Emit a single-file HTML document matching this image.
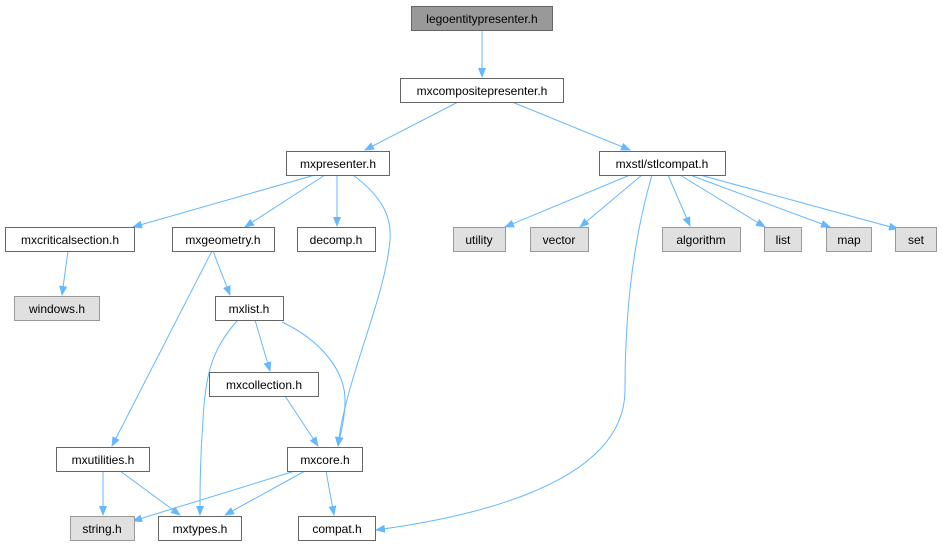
<!DOCTYPE html>
<html><head><meta charset="utf-8"><style>
html,body{margin:0;padding:0;background:#fff;}
svg{display:block;}
text{font-family:"Liberation Sans",Helvetica,Arial,sans-serif;font-size:12px;fill:#000;}
</style></head><body>
<svg width="942" height="549" viewBox="0 0 942 549" xmlns="http://www.w3.org/2000/svg">
<defs><marker id="a" markerWidth="10" markerHeight="8" refX="9" refY="4" orient="auto" markerUnits="userSpaceOnUse"><path d="M0,0 L10,4 L0,8 z" fill="#63b8ff"/></marker></defs>
<g fill="none" stroke="#63b8ff" stroke-width="1" marker-end="url(#a)">
<path d="M482,30 L482,77"/>
<path d="M458,102 L365,150"/>
<path d="M512,102 L630,150"/>
<path d="M315,175 L133,227"/>
<path d="M325,175 L245,227"/>
<path d="M337,175 L337,226"/>
<path d="M353,175 C380,195 392,215 390,240 C385,300 345,380 338,446"/>
<path d="M630,175 L505,227"/>
<path d="M642,175 L580,227"/>
<path d="M668,175 L690,226"/>
<path d="M680,175 L765,227"/>
<path d="M690,175 L830,227"/>
<path d="M700,175 L898,229"/>
<path d="M652,175 C630,250 625,330 625,390 C625,490 450,520 376,530"/>
<path d="M68,251 L62,295"/>
<path d="M213,251 L230,295"/>
<path d="M212,251 L112,446"/>
<path d="M255,320 L270,371"/>
<path d="M238,320 C210,350 205,380 203,420 C200,460 200,490 200,515"/>
<path d="M282,322 C320,340 345,370 345,400 C345,420 340,435 338,446"/>
<path d="M285,396 L318,446"/>
<path d="M103,471 L103,515"/>
<path d="M120,471 L180,515"/>
<path d="M295,471 L133,521"/>
<path d="M305,471 L225,515"/>
<path d="M326,471 L334,515"/>
</g>
<g stroke-width="1">
<rect x="411.5" y="6.5" width="141" height="24" fill="#999" stroke="#666"/>
<rect x="400.5" y="78.5" width="163" height="24" fill="#fff" stroke="#666"/>
<rect x="286.5" y="151.5" width="103" height="24" fill="#fff" stroke="#666"/>
<rect x="599.5" y="151.5" width="126" height="24" fill="#fff" stroke="#666"/>
<rect x="5.5" y="227.5" width="129" height="24" fill="#fff" stroke="#666"/>
<rect x="172.5" y="227.5" width="102" height="24" fill="#fff" stroke="#666"/>
<rect x="297.5" y="227.5" width="78" height="24" fill="#fff" stroke="#666"/>
<rect x="453.5" y="227.5" width="52" height="24" fill="#e0e0e0" stroke="#999"/>
<rect x="530.5" y="227.5" width="58" height="24" fill="#e0e0e0" stroke="#999"/>
<rect x="662.5" y="227.5" width="78" height="24" fill="#e0e0e0" stroke="#999"/>
<rect x="764.5" y="227.5" width="37" height="24" fill="#e0e0e0" stroke="#999"/>
<rect x="826.5" y="227.5" width="45" height="24" fill="#e0e0e0" stroke="#999"/>
<rect x="895.5" y="227.5" width="41" height="24" fill="#e0e0e0" stroke="#999"/>
<rect x="14.5" y="296.5" width="85" height="24" fill="#e0e0e0" stroke="#999"/>
<rect x="215.5" y="296.5" width="68" height="24" fill="#fff" stroke="#666"/>
<rect x="209.5" y="372.5" width="109" height="24" fill="#fff" stroke="#666"/>
<rect x="56.5" y="447.5" width="93" height="24" fill="#fff" stroke="#666"/>
<rect x="287.5" y="447.5" width="75" height="24" fill="#fff" stroke="#666"/>
<rect x="70.5" y="516.5" width="64" height="24" fill="#e0e0e0" stroke="#999"/>
<rect x="158.5" y="516.5" width="83" height="24" fill="#fff" stroke="#666"/>
<rect x="298.5" y="516.5" width="77" height="24" fill="#fff" stroke="#666"/>
</g>
<g text-anchor="middle">
<text x="482" y="23">legoentitypresenter.h</text>
<text x="482" y="95">mxcompositepresenter.h</text>
<text x="338" y="168">mxpresenter.h</text>
<text x="662" y="168">mxstl/stlcompat.h</text>
<text x="70" y="244">mxcriticalsection.h</text>
<text x="223" y="244">mxgeometry.h</text>
<text x="336" y="244">decomp.h</text>
<text x="479" y="244">utility</text>
<text x="559" y="244">vector</text>
<text x="701" y="244">algorithm</text>
<text x="783" y="244">list</text>
<text x="849" y="244">map</text>
<text x="916" y="244">set</text>
<text x="57" y="313">windows.h</text>
<text x="249" y="313">mxlist.h</text>
<text x="264" y="389">mxcollection.h</text>
<text x="103" y="464">mxutilities.h</text>
<text x="325" y="464">mxcore.h</text>
<text x="102" y="533">string.h</text>
<text x="200" y="533">mxtypes.h</text>
<text x="337" y="533">compat.h</text>
</g>
</svg>
</body></html>
